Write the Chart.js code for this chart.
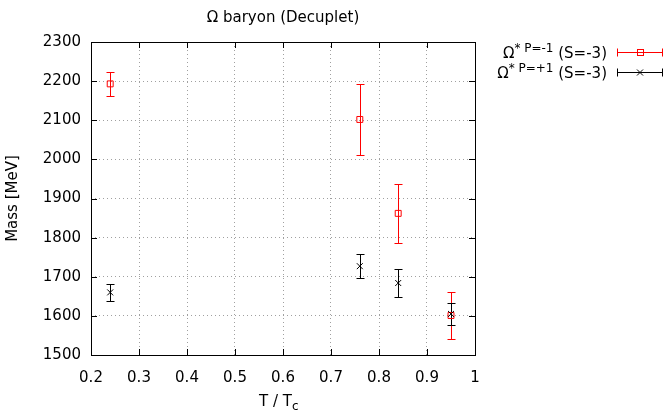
<!DOCTYPE html>
<html>
<head>
<meta charset="utf-8">
<script src="https://cdn.jsdelivr.net/npm/chart.js@4.4.1/dist/chart.umd.min.js"></script>
<style>
    body { margin: 0; background: #fff; }
    #wrap { position: relative; width: 666px; height: 415px; }
    .txt { position: absolute; font-family: 'DejaVu Sans', sans-serif; font-size: 15px; color: #000; white-space: nowrap; line-height: 1; }
    .txt sup { font-size: 12px; vertical-align: 0; position: relative; top: -6px; }
    .txt sub { font-size: 12px; vertical-align: 0; position: relative; top: 4px; }
</style>
</head>
<body>
<div id="wrap">
    <canvas id="chart" width="666" height="415"></canvas>
    <div class="txt" style="right:59px; top:46px;">Ω<sup>* P=-1</sup> (S=-3)</div>
    <div class="txt" style="right:59px; top:66px;">Ω<sup>* P=+1</sup> (S=-3)</div>
    <div class="txt" style="left:259px; top:394px;">T / T<sub>c</sub></div>
</div>
<script>
// Omega baryon (decuplet) masses vs T/Tc

const tcRatio = [0.24, 0.76, 0.84, 0.95];

// P = -1 channel
const massNeg = [2193, 2102, 1862, 1601];
const errNeg  = [30, 90, 75, 60];

// P = +1 channel
const massPos = [1660, 1727, 1684, 1605];
const errPos  = [22, 31, 36, 28];

const xTicks = [0.2, 0.3, 0.4, 0.5, 0.6, 0.7, 0.8, 0.9, 1.0];
const yTicks = [1500, 1600, 1700, 1800, 1900, 2000, 2100, 2200, 2300];

const FONT = "'DejaVu Sans', sans-serif";
const RED = '#ff0000';
const BLACK = '#000000';

const series = [
    { mass: massNeg, err: errNeg, color: RED },
    { mass: massPos, err: errPos, color: BLACK }
];

function toPoints(mass) {
    return tcRatio.map((t, i) => ({ x: t, y: mass[i] }));
}

// gnuplot-style error bars with caps
const errorBars = {
    id: 'errorBars',
    beforeDatasetsDraw(chart) {
        const { ctx, scales: { x, y } } = chart;
        ctx.save();
        ctx.lineWidth = 1;
        series.forEach(s => {
            ctx.strokeStyle = s.color;
            tcRatio.forEach((t, i) => {
                const px = Math.round(x.getPixelForValue(t)) + 0.5;
                const top = Math.round(y.getPixelForValue(s.mass[i] + s.err[i])) + 0.5;
                const bot = Math.round(y.getPixelForValue(s.mass[i] - s.err[i])) + 0.5;
                ctx.beginPath();
                ctx.moveTo(px, top); ctx.lineTo(px, bot);
                ctx.moveTo(px - 4, top); ctx.lineTo(px + 4, top);
                ctx.moveTo(px - 4, bot); ctx.lineTo(px + 4, bot);
                ctx.stroke();
            });
        });
        ctx.restore();
    }
};

// frame, inward mirrored ticks and legend samples
const frame = {
    id: 'frame',
    afterDraw(chart) {
        const { ctx, chartArea: a, scales: { x, y } } = chart;
        ctx.save();
        ctx.strokeStyle = BLACK;
        ctx.lineWidth = 1;
        ctx.beginPath();
        xTicks.forEach(v => {
            const px = Math.round(x.getPixelForValue(v)) + 0.5;
            ctx.moveTo(px, a.bottom); ctx.lineTo(px, a.bottom - 6);
            ctx.moveTo(px, a.top); ctx.lineTo(px, a.top + 6);
        });
        yTicks.forEach(v => {
            const py = Math.round(y.getPixelForValue(v)) + 0.5;
            ctx.moveTo(a.left, py); ctx.lineTo(a.left + 6, py);
            ctx.moveTo(a.right, py); ctx.lineTo(a.right - 6, py);
        });
        ctx.stroke();
        ctx.strokeRect(Math.round(a.left) + 0.5, Math.round(a.top) + 0.5,
                       Math.round(a.right - a.left), Math.round(a.bottom - a.top));

        // legend samples
        const rows = [52.5, 72.5];
        series.forEach((s, k) => {
            const yy = rows[k];
            ctx.strokeStyle = s.color;
            ctx.beginPath();
            ctx.moveTo(617, yy); ctx.lineTo(663, yy);
            ctx.moveTo(617.5, yy - 4); ctx.lineTo(617.5, yy + 4);
            ctx.moveTo(662.5, yy - 4); ctx.lineTo(662.5, yy + 4);
            ctx.stroke();
            if (k === 0) {
                ctx.strokeRect(637.5, yy - 3, 6, 6);
            } else {
                ctx.beginPath();
                ctx.moveTo(637, yy - 3); ctx.lineTo(643, yy + 3);
                ctx.moveTo(637, yy + 3); ctx.lineTo(643, yy - 3);
                ctx.stroke();
            }
        });
        ctx.restore();
    }
};

new Chart(document.getElementById('chart'), {
    type: 'scatter',
    data: {
        datasets: [
            {
                label: 'P=-1',
                data: toPoints(massNeg),
                order: 1,
                pointStyle: 'rect',
                pointRadius: 4.2,
                pointBorderWidth: 1,
                borderColor: RED,
                backgroundColor: 'rgba(0,0,0,0)'
            },
            {
                label: 'P=+1',
                data: toPoints(massPos),
                order: 0,
                pointStyle: 'crossRot',
                pointRadius: 4.2,
                pointBorderWidth: 1,
                borderColor: BLACK,
                backgroundColor: BLACK
            }
        ]
    },
    options: {
        responsive: false,
        animation: false,
        layout: { padding: { left: 0, right: 191, top: 0, bottom: 0 } },
        plugins: {
            legend: { display: false },
            tooltip: { enabled: false },
            title: {
                display: true,
                fullSize: false,
                text: 'Ω baryon (Decuplet)',
                color: BLACK,
                font: { family: FONT, size: 15, weight: 'normal' },
                padding: { top: 9, bottom: 15 }
            }
        },
        scales: {
            x: {
                type: 'linear',
                min: 0.2,
                max: 1,
                afterBuildTicks: s => { s.ticks = xTicks.map(v => ({ value: v })); },
                afterFit: s => { s.height = 60; },
                ticks: {
                    color: BLACK,
                    padding: 14,
                    font: { family: FONT, size: 15 },
                    callback: v => String(+v.toFixed(1))
                },
                grid: { color: '#a0a0a0', drawTicks: false, lineWidth: 1 },
                border: { display: false, dash: [1, 3] }
            },
            y: {
                type: 'linear',
                min: 1500,
                max: 2300,
                afterBuildTicks: s => { s.ticks = yTicks.map(v => ({ value: v })); },
                afterFit: s => { s.width = 91; },
                ticks: {
                    color: BLACK,
                    padding: 10,
                    font: { family: FONT, size: 15 },
                    callback: v => String(v)
                },
                grid: { color: '#a0a0a0', drawTicks: false, lineWidth: 1 },
                border: { display: false, dash: [1, 3] },
                title: {
                    display: true,
                    text: 'Mass [MeV]',
                    color: BLACK,
                    font: { family: FONT, size: 15 },
                    padding: { top: 4, bottom: 0 }
                }
            }
        }
    },
    plugins: [errorBars, frame]
});
</script>
</body>
</html>
